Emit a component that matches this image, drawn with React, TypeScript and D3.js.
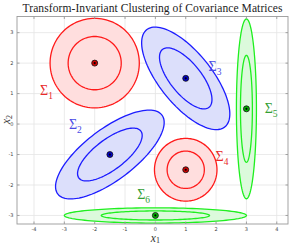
import React, {useEffect, useRef} from 'react';
import * as d3 from "d3";

// cluster parameters (data units)
const clusterIds = ["1", "2", "3", "4", "5", "6"];
const centerX = [-2, -1.5, 1, 1, 3, 0];
const centerY = [2, -1, 1.5, -1.5, 0.5, -3];
const semiMajor = [1.47, 2.15, 2.05, 1.03, 2.95, 3.0];
const semiMinor = [1.47, 0.84, 0.86, 1.03, 0.33, 0.25];
const angleDeg = [0, 37, -51, 0, 90, 0];
const colorGroup = ["red", "blue", "blue", "red", "green", "green"];
// label anchors (data units)
const labelX = [-3.8, -2.85, 1.75, 1.98, 3.6, -0.6];
const labelY = [0.95, -0.15, 1.75, -1.2, 0.35, -2.45];

const contourLevels = [1, 0.595];
const xTicks = [-4, -3, -2, -1, 0, 1, 2, 3, 4];
const yTicks = [-3, -2, -1, 0, 1, 2, 3];

const palette: any = {
    red: {stroke: "#ff1a1a", fill: "#ffdede", text: "#e82a2a", dot: "#d00000"},
    blue: {stroke: "#1c1cff", fill: "#dcdffb", text: "#4a4ae6", dot: "#0000c8"},
    green: {stroke: "#1fef1f", fill: "#dcfadc", text: "#34a034", dot: "#00b400"},
};

export default function App() {
    const ref = useRef<SVGSVGElement>(null);

    useEffect(() => {
        const W = 293, H = 245;
        const margin = {top: 16.5, right: 5, bottom: 21, left: 17};
        const svg = d3.select(ref.current);
        svg.selectAll("*").remove();

        const x = d3.scaleLinear().domain([-4.56, 4.37]).range([margin.left, W - margin.right]);
        const y = d3.scaleLinear().domain([-3.28, 3.53]).range([H - margin.bottom, margin.top]);

        svg.append("rect").attr("width", W).attr("height", H).attr("fill", "#fff");

        //grid
        const grid = svg.append("g").attr("stroke", "#e4e4e4").attr("stroke-width", 0.8);
        xTicks.forEach(t => grid.append("line")
            .attr("x1", x(t)).attr("x2", x(t))
            .attr("y1", y.range()[1]).attr("y2", y.range()[0]));
        yTicks.forEach(t => grid.append("line")
            .attr("x1", x.range()[0]).attr("x2", x.range()[1])
            .attr("y1", y(t)).attr("y2", y(t)));

        svg.append("clipPath").attr("id", "plotclip").append("rect")
            .attr("x", x.range()[0]).attr("y", y.range()[1])
            .attr("width", x.range()[1] - x.range()[0])
            .attr("height", y.range()[0] - y.range()[1]);

        const plot = svg.append("g").attr("clip-path", "url(#plotclip)");
        const line = d3.line<[number, number]>().x(d => x(d[0])).y(d => y(d[1])).curve(d3.curveLinearClosed);

        const ellipse = (i: number, k: number) => {
            const th = angleDeg[i] * Math.PI / 180;
            const pts: [number, number][] = d3.range(0, 360, 3).map(a => {
                const t = a * Math.PI / 180;
                const u = semiMajor[i] * k * Math.cos(t);
                const v = semiMinor[i] * k * Math.sin(t);
                return [centerX[i] + u * Math.cos(th) - v * Math.sin(th),
                        centerY[i] + u * Math.sin(th) + v * Math.cos(th)];
            });
            return line(pts);
        };

        clusterIds.forEach((id, i) => {
            const c = palette[colorGroup[i]];
            plot.append("path").attr("d", ellipse(i, contourLevels[0]))
                .attr("fill", c.fill).attr("stroke", c.stroke).attr("stroke-width", 1.3);
            plot.append("path").attr("d", ellipse(i, contourLevels[1]))
                .attr("fill", "none").attr("stroke", c.stroke).attr("stroke-width", 1.3);
            plot.append("circle").attr("cx", x(centerX[i])).attr("cy", y(centerY[i]))
                .attr("r", 3).attr("fill", c.dot).attr("stroke", "#111").attr("stroke-width", 0.8);
            plot.append("circle").attr("cx", x(centerX[i])).attr("cy", y(centerY[i]))
                .attr("r", 1.1).attr("fill", "#000");

            const lab = svg.append("text")
                .attr("x", x(labelX[i])).attr("y", y(labelY[i]))
                .attr("font-family", "Liberation Serif, serif")
                .attr("fill", c.text);
            lab.append("tspan").attr("font-size", 14).text("Σ");
            lab.append("tspan").attr("font-size", 9.5).attr("dy", 4).text(id);
        });

        //frame + ticks
        const frame = svg.append("g").attr("stroke", "#9a9a9a").attr("stroke-width", 0.9).attr("fill", "none");
        frame.append("rect")
            .attr("x", x.range()[0]).attr("y", y.range()[1])
            .attr("width", x.range()[1] - x.range()[0])
            .attr("height", y.range()[0] - y.range()[1]);
        xTicks.forEach(t => {
            frame.append("line").attr("x1", x(t)).attr("x2", x(t))
                .attr("y1", y.range()[0]).attr("y2", y.range()[0] - 2.5);
            frame.append("line").attr("x1", x(t)).attr("x2", x(t))
                .attr("y1", y.range()[1]).attr("y2", y.range()[1] + 2.5);
        });
        yTicks.forEach(t => {
            frame.append("line").attr("y1", y(t)).attr("y2", y(t))
                .attr("x1", x.range()[0]).attr("x2", x.range()[0] + 2.5);
            frame.append("line").attr("y1", y(t)).attr("y2", y(t))
                .attr("x1", x.range()[1]).attr("x2", x.range()[1] - 2.5);
        });

        const tickFont = {family: "DejaVu Sans, sans-serif", size: 5};
        xTicks.forEach(t => svg.append("text")
            .attr("x", x(t)).attr("y", y.range()[0] + 7)
            .attr("text-anchor", "middle").attr("font-family", tickFont.family)
            .attr("font-size", tickFont.size).attr("fill", "#444").text(t));
        yTicks.forEach(t => svg.append("text")
            .attr("x", x.range()[0] - 3.5).attr("y", y(t) + 1.8)
            .attr("text-anchor", "end").attr("font-family", tickFont.family)
            .attr("font-size", tickFont.size).attr("fill", "#444").text(t));

        //axis labels
        const xl = svg.append("text").attr("x", x(0)).attr("y", 241.5)
            .attr("text-anchor", "middle").attr("font-family", "Liberation Serif, serif").attr("fill", "#333");
        xl.append("tspan").attr("font-size", 11.5).attr("font-style", "italic").text("x");
        xl.append("tspan").attr("font-size", 8).attr("dy", 1.8).text("1");

        const yl = svg.append("text")
            .attr("transform", `translate(10,${y(0.15)}) rotate(-90)`)
            .attr("text-anchor", "middle").attr("font-family", "Liberation Serif, serif").attr("fill", "#333");
        yl.append("tspan").attr("font-size", 11.5).attr("font-style", "italic").text("x");
        yl.append("tspan").attr("font-size", 8).attr("dy", 1.8).text("2");

        svg.append("text").attr("x", 152.5).attr("y", 12)
            .attr("text-anchor", "middle").attr("font-family", "Liberation Serif, serif")
            .attr("font-size", 11.5).attr("fill", "#222")
            .attr("textLength", 260).attr("lengthAdjust", "spacing")
            .text("Transform-Invariant Clustering of Covariance Matrices");
    }, []);

    return (
        <div>
            <svg ref={ref} width={293} height={245} style={{position: "absolute", left: 0, top: 0}}></svg>
        </div>
    );
}
